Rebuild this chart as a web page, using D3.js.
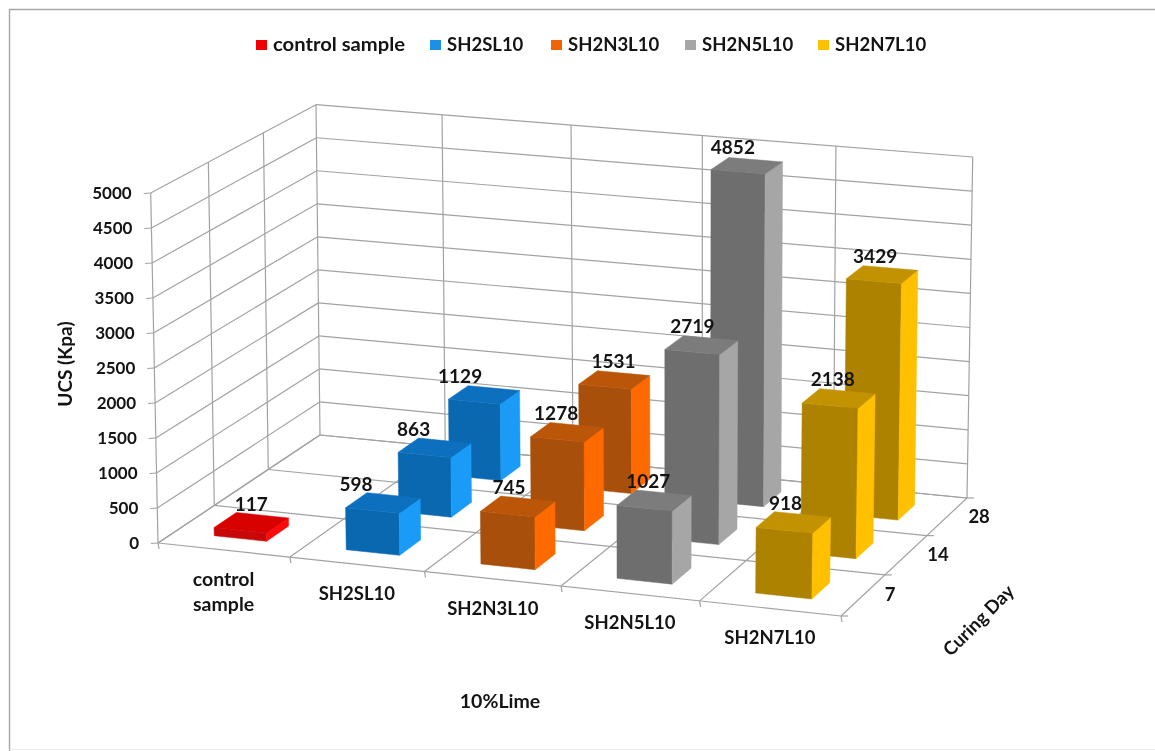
<!DOCTYPE html>
<html><head><meta charset="utf-8">
<script src="https://cdn.jsdelivr.net/npm/d3@7"></script>
<style>
html,body{margin:0;padding:0;background:#fff;overflow:hidden}
svg{display:block;filter:blur(0.6px)}
text{font-family:Lato,"Open Sans",sans-serif;font-weight:700;fill:#141414}
</style></head><body><svg id="c" width="1155" height="751"></svg>
<script>
// ---- data ----
const categories = ["control sample","SH2SL10","SH2N3L10","SH2N5L10","SH2N7L10"];
const days = ["7","14","28"];
const controlValues = [117,null,null];
const sh2sl10Values = [598,863,1129];
const sh2n3l10Values = [745,1278,1531];
const sh2n5l10Values = [1027,2719,4852];
const sh2n7l10Values = [918,2138,3429];
const yTicks = d3.range(0,5001,500);
// ---- styling and layout ----
const seriesValues = [controlValues,sh2sl10Values,sh2n3l10Values,sh2n5l10Values,sh2n7l10Values];
const palette = [
 {front:"#c80808",top:"#d90000",side:"#ff0a0a",key:"#f00000"},
 {front:"#0a68b0",top:"#0c70bf",side:"#1a9bf8",key:"#1a90e8"},
 {front:"#a94f0c",top:"#bb5609",side:"#ff6a00",key:"#f06408"},
 {front:"#6e6e6e",top:"#7c7c7c",side:"#a6a6a6",key:"#a6a6a6"},
 {front:"#ad8200",top:"#c29200",side:"#ffc000",key:"#ffc000"}];
// horizontal shift of each value label relative to its bar, per category then depth
const labelShift = [[0,0,0],[-27,-21,-24],[-9,-11,-1],[-6,-9,-14],[-8,-6,-7]];
const legendX = [256,430,551,685,818];
const dayLabelShift = [27,32,32];

const svg=d3.select("#c");
svg.append("path").attr("d","M9.5,751V9.5H1155").attr("fill","none").attr("stroke","#a6a6a6").attr("stroke-width",1.4);
svg.append("path").attr("d","M9.5,749.5H1155").attr("fill","none").attr("stroke","#ececec");

function homography(q){ // unit square -> quad [p00,p10,p11,p01]
  const [a,b,c,d]=q;
  const dx1=b[0]-c[0],dx2=d[0]-c[0],sx=a[0]-b[0]+c[0]-d[0];
  const dy1=b[1]-c[1],dy2=d[1]-c[1],sy=a[1]-b[1]+c[1]-d[1];
  const den=dx1*dy2-dx2*dy1;
  const g=(sx*dy2-dx2*sy)/den,h=(dx1*sy-sx*dy1)/den;
  const A=b[0]-a[0]+g*b[0],B=d[0]-a[0]+h*d[0],C=a[0];
  const D=b[1]-a[1]+g*b[1],E=d[1]-a[1]+h*d[1],F=a[1];
  return (u,v)=>{const w=g*u+h*v+1;return [(A*u+B*v+C)/w,(D*u+E*v+F)/w];};
}
const floorH=homography([[158,543],[841,616],[967,498],[320,435]]);
const ceilH =homography([[150.7,193],[846.5,255],[972.7,157],[316,104.7]]);
const xScale=d3.scaleBand().domain(categories).range([0,1]);
const zScale=d3.scaleBand().domain(days).range([0,1]);
const yScale=d3.scaleLinear().domain([0,5000]).range([0,1]);
const uWarp=d3.scaleLinear().domain([0,0.5,1]).range([0,0.503,1]);
function project(u,v,val){
  const t=yScale(val),f=floorH(uWarp(u),v),c=ceilH(uWarp(u),v);
  return [f[0]+(c[0]-f[0])*t,f[1]+(c[1]-f[1])*t];
}
const line=d3.line();
const grid=svg.append("g").attr("fill","none").attr("stroke","#a2a2a2").attr("stroke-width",1.2);
function seg(a,b){grid.append("path").attr("d",line([a,b]));}
yTicks.forEach(t=>{
  seg(project(0,0,t),project(0,1,t));
  seg(project(0,1,t),project(1,1,t));
});
d3.range(0,categories.length+1).forEach(i=>{const u=i/categories.length;seg(project(u,1,0),project(u,1,5000));});
[0,1,2].forEach(i=>{const v=i/days.length;seg(project(0,v,0),project(0,v,5000));});
d3.range(0,categories.length+1).forEach(i=>{const u=i/categories.length;seg(project(u,0,0),project(u,1,0));});
d3.range(0,days.length+1).forEach(i=>{const v=i/days.length;seg(project(0,v,0),project(1,v,0));});
yTicks.forEach(t=>{const p=project(0,0,t);seg(p,[p[0]-7,p[1]+0.5]);});
d3.range(0,categories.length+1).forEach(i=>{const p=project(i/categories.length,0,0);seg(p,[p[0]+1,p[1]+6]);});
d3.range(0,days.length+1).forEach(i=>{const p=project(1,i/days.length,0);seg(p,[p[0]+7,p[1]]);});

svg.append("g").selectAll("text").data(yTicks).join("text")
  .attr("text-anchor","end").attr("font-size",17)
  .attr("x",d=>project(0,0,d)[0]-19).attr("y",d=>project(0,0,d)[1]+6).text(d=>d);
const catG=svg.append("g");
categories.forEach((c,i)=>{
  const p=project(xScale(c)+xScale.bandwidth()/2,0,0);
  const two=c==="control sample";
  const t=catG.append("text").attr("text-anchor","middle").attr("font-size",two?19.5:18.5).attr("x",p[0]).attr("y",p[1]+36);
  (two?c.split(" "):[c]).forEach((s,k)=>t.append("tspan").attr("x",p[0]).attr("dy",k?25:0).text(s));
});
days.forEach((d,i)=>{
  const p=project(1,zScale(d)+zScale.bandwidth()/2,0);
  svg.append("text").attr("font-size",18.5).attr("text-anchor","middle").attr("x",p[0]+dayLabelShift[i]).attr("y",p[1]+6).text(d);
});
const inset=0.3;
const bars=svg.append("g");
const labels=[];
for(let d=days.length-1;d>=0;d--){
  categories.forEach((c,i)=>{
    const val=seriesValues[i][d]; if(val==null) return;
    const bw=xScale.bandwidth(),dw=zScale.bandwidth();
    const u0=xScale(c)+bw*inset,u1=xScale(c)+bw*(1-inset);
    const v0=zScale(days[d])+dw*inset,v1=zScale(days[d])+dw*(1-inset);
    const col=palette[i];
    const face=(pts,fill)=>bars.append("path").attr("d",line(pts)+"Z").attr("fill",fill).attr("stroke",fill).attr("stroke-width",0.5);
    face([project(u0,v0,0),project(u1,v0,0),project(u1,v0,val),project(u0,v0,val)],col.front);
    face([project(u1,v0,0),project(u1,v1,0),project(u1,v1,val),project(u1,v0,val)],col.side);
    face([project(u0,v0,val),project(u1,v0,val),project(u1,v1,val),project(u0,v1,val)],col.top);
    const ct=project((u0+u1)/2,(v0+v1)/2,val);
    labels.push({x:ct[0]+labelShift[i][d],y:ct[1]-12,t:val});
  });
}
svg.append("g").selectAll("text").data(labels).join("text").attr("text-anchor","middle").attr("font-size",19)
  .attr("x",d=>d.x).attr("y",d=>d.y).text(d=>d.t);
svg.append("text").attr("font-size",19.5).attr("text-anchor","middle").attr("x",500).attr("y",708).text("10%Lime");
svg.append("text").attr("font-size",19).attr("text-anchor","middle").attr("transform","translate(72,364) rotate(-90)").text("UCS (Kpa)");
svg.append("text").attr("font-size",18.5).attr("text-anchor","middle").attr("transform","translate(983,625) rotate(-45)").text("Curing Day");
const lg=svg.append("g");
categories.forEach((c,i)=>{
  lg.append("rect").attr("x",legendX[i]).attr("y",40).attr("width",11).attr("height",10).attr("fill",palette[i].key);
  const t=lg.append("text").attr("x",legendX[i]+17).attr("y",51).attr("font-size",18.5).text(c);
  if(i===0) t.attr("textLength",132).attr("lengthAdjust","spacingAndGlyphs");
});
</script></body></html>
